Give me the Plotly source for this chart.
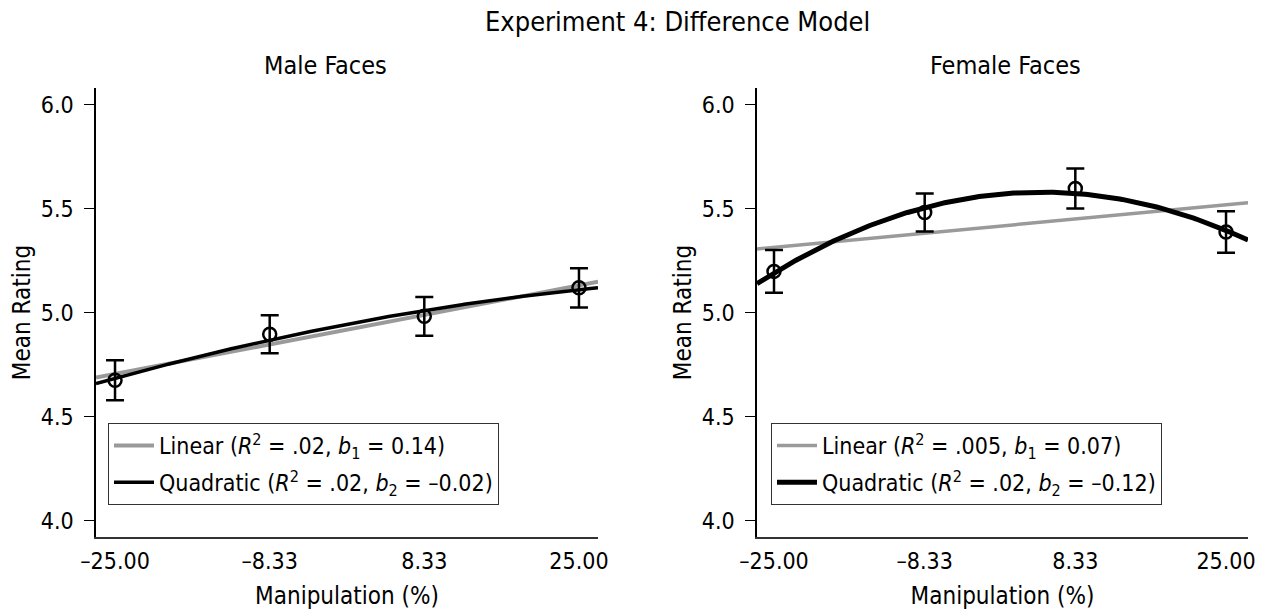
import numpy as np
import plotly.graph_objects as go

# ---- data ----
manipulation = [-25.0, -8.33, 8.33, 25.0]
tick_labels = ["\u201325.00", "\u20138.33", "8.33", "25.00"]

male_mean = [4.676, 4.897, 4.983, 5.120]
male_err = [0.096, 0.091, 0.093, 0.094]
female_mean = [5.199, 5.482, 5.597, 5.388]
female_err = [0.103, 0.091, 0.096, 0.100]

male_linear_label = "Linear (<i>R</i><sup>2</sup> = .02, <i>b</i><sub>1</sub> = 0.14)"
male_quad_label = "Quadratic (<i>R</i><sup>2</sup> = .02, <i>b</i><sub>2</sub> = \u20130.02)"
female_linear_label = "Linear (<i>R</i><sup>2</sup> = .005, <i>b</i><sub>1</sub> = 0.07)"
female_quad_label = "Quadratic (<i>R</i><sup>2</sup> = .02, <i>b</i><sub>2</sub> = \u20130.12)"

FONT = "DejaVu Sans Condensed, DejaVu Sans, sans-serif"
W, H = 1273, 611

x_ranges = {"x": [-27.05, 27.05], "x2": [-26.88, 27.43]}
y_range = [3.923, 6.08]

fig = go.Figure()


def add_panel(means, errs, lin_label, quad_label, xref, yref, legend, xr, lin_w, quad_w, tag):
    xs = np.array(manipulation)
    ys = np.array(means)
    lin = np.polyfit(xs, ys, 1)
    quad = np.polyfit(xs, ys, 2)
    grid = np.linspace(xr[0], xr[1], 200)
    fig.add_trace(go.Scatter(x=grid, y=np.polyval(lin, grid), mode="lines",
                             line=dict(color="#9a9a9a", width=lin_w),
                             name=lin_label, legendgroup=tag + "lin",
                             xaxis=xref, yaxis=yref, legend=legend))
    fig.add_trace(go.Scatter(x=grid, y=np.polyval(quad, grid), mode="lines",
                             line=dict(color="black", width=quad_w),
                             name=quad_label, legendgroup=tag + "quad",
                             xaxis=xref, yaxis=yref, legend=legend))
    fig.add_trace(go.Scatter(x=manipulation, y=means, mode="markers",
                             marker=dict(symbol="circle-open", size=13, color="black",
                                         line=dict(width=2.5, color="black")),
                             error_y=dict(type="data", array=errs, visible=True,
                                          color="black", thickness=2.5, width=9),
                             showlegend=False, xaxis=xref, yaxis=yref))


add_panel(male_mean, male_err, male_linear_label, male_quad_label, "x", "y", "legend",
          x_ranges["x"], 4, 3.5, "m")
add_panel(female_mean, female_err, female_linear_label, female_quad_label, "x2", "y2", "legend2",
          x_ranges["x2"], 3.5, 5, "f")

ydom = [(H - 537) / H, (H - 88) / H]
xdom1 = [96 / W, 598 / W]
xdom2 = [757 / W, 1248 / W]

xaxis_common = dict(
    tickmode="array", tickvals=manipulation, ticktext=tick_labels,
    showline=True, linecolor="#333", linewidth=1.5, ticks="outside",
    ticklen=3, tickcolor="rgba(0,0,0,0)", showgrid=False, zeroline=False,
    tickfont=dict(size=23, color="black", family=FONT),
    title=dict(text="Manipulation (%)", font=dict(size=24, color="black", family=FONT), standoff=14),
    automargin=False,
)
yaxis_common = dict(
    range=y_range, tickmode="array", tickvals=[4.0, 4.5, 5.0, 5.5, 6.0],
    ticktext=["4.0", "4.5", "5.0", "5.5", "6.0"],
    showline=True, linecolor="black", linewidth=1.5, ticks="outside",
    ticklen=10, tickwidth=1.2, tickcolor="black", showgrid=False, zeroline=False,
    tickfont=dict(size=23, color="black", family=FONT), ticklabelstandoff=6,
    title=dict(text="Mean Rating", font=dict(size=24, color="black", family=FONT), standoff=3),
    automargin=False,
)

legend_common = dict(xanchor="left", yanchor="top", bgcolor="white", bordercolor="#333",
                     borderwidth=1, font=dict(size=23, family=FONT, color="black"),
                     itemwidth=40, tracegroupgap=4, traceorder="grouped")

fig.update_layout(
    width=W, height=H, margin=dict(l=0, r=0, t=0, b=0),
    paper_bgcolor="white", plot_bgcolor="white",
    font=dict(family=FONT, color="black", size=23),
    xaxis=dict(domain=xdom1, range=x_ranges["x"], anchor="y", **xaxis_common),
    yaxis=dict(domain=ydom, anchor="x", **yaxis_common),
    xaxis2=dict(domain=xdom2, range=x_ranges["x2"], anchor="y2", **xaxis_common),
    yaxis2=dict(domain=ydom, anchor="x2", **yaxis_common),
    legend=dict(x=108 / W, y=(H - 423) / H, **legend_common),
    legend2=dict(x=771 / W, y=(H - 423) / H, **legend_common),
    annotations=[
        dict(text="Experiment 4: Difference Model", x=677 / W, y=(H - 22) / H,
             xref="paper", yref="paper", showarrow=False, xanchor="center", yanchor="middle",
             font=dict(size=27, family=FONT, color="black")),
        dict(text="Male Faces", x=325 / W, y=(H - 65) / H,
             xref="paper", yref="paper", showarrow=False, xanchor="center", yanchor="middle",
             font=dict(size=25, family=FONT, color="black")),
        dict(text="Female Faces", x=1005 / W, y=(H - 65) / H,
             xref="paper", yref="paper", showarrow=False, xanchor="center", yanchor="middle",
             font=dict(size=25, family=FONT, color="black")),
    ],
)

fig.write_html("out.html")
